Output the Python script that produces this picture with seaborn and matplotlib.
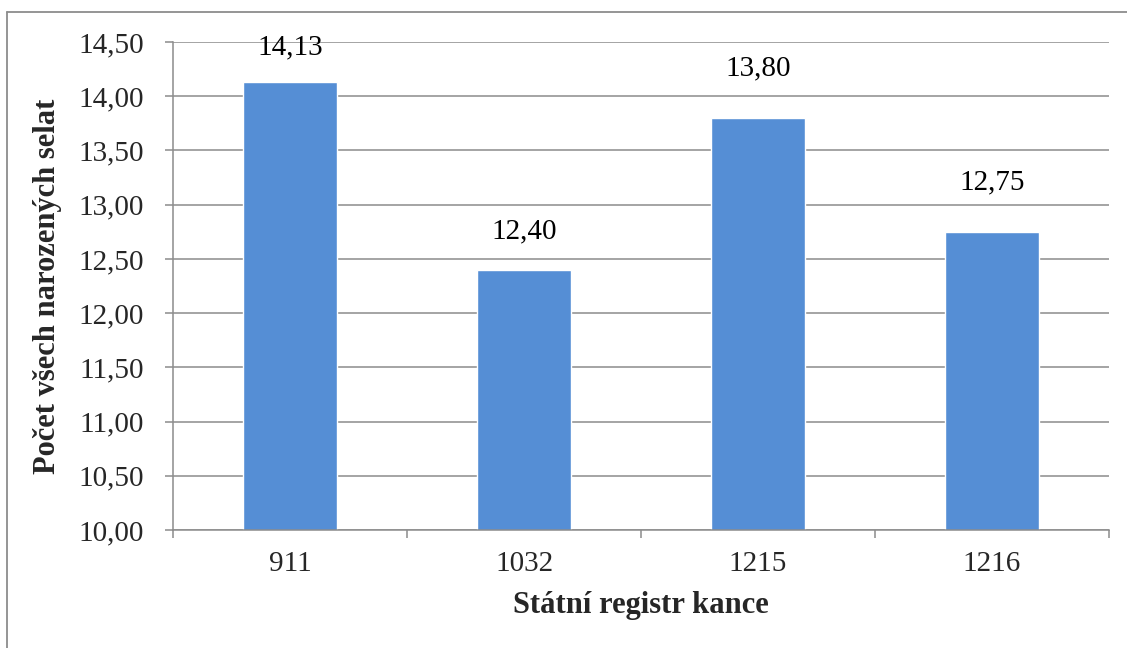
import matplotlib
matplotlib.use("Agg")
import matplotlib.pyplot as plt
import seaborn as sns
import pandas as pd
from matplotlib.lines import Line2D

# Data
boars = ["911", "1032", "1215", "1216"]
piglets = [14.13, 12.40, 13.80, 12.75]
y_ticks = [10.0, 10.5, 11.0, 11.5, 12.0, 12.5, 13.0, 13.5, 14.0, 14.5]

df = pd.DataFrame({"kanec": boars, "selata": piglets})

sns.set_theme(style="white")
plt.rcParams["font.family"] = ["Liberation Serif", "DejaVu Serif"]

W, H = 1127, 648
fig = plt.figure(figsize=(W / 100, H / 100), dpi=100)
ax = fig.add_axes([173 / W, 1 - 530 / H, (1109 - 173) / W, (530 - 42) / H])

grid_c = "#8c8c8c"
ax.set_axisbelow(True)
for v in y_ticks:
    ax.axhline(v, color=grid_c, lw=1.1, zorder=0)

sns.barplot(data=df, x="kanec", y="selata", order=boars, color="#558ed5",
            saturation=1, width=0.40, ax=ax, zorder=2)

ax.set_ylim(10.0, 14.5)
ax.set_xlim(-0.5, len(boars) - 0.5)
ax.set_yticks(y_ticks)
ax.set_yticklabels([f"{v:.2f}".replace(".", ",") for v in y_ticks], fontsize=21)

# category separators below the axis
ax.set_xticks([i + 0.5 for i in range(-1, len(boars))], minor=True)
ax.set_xticks(range(len(boars)))
ax.set_xticklabels(boars, fontsize=21)
ax.tick_params(axis="x", which="major", length=0, pad=15)
ax.tick_params(axis="x", which="minor", length=6, width=1.1, color=grid_c, bottom=True)
ax.tick_params(axis="y", length=6, width=1.1, color=grid_c, left=True, pad=15)

for side in ["top", "right"]:
    ax.spines[side].set_visible(False)
for side in ["left", "bottom"]:
    ax.spines[side].set_color(grid_c)
    ax.spines[side].set_linewidth(1.1)

ax.set_xlabel("Státní registr kance", fontsize=22, fontweight="bold", labelpad=10)
ax.set_ylabel("Počet všech narozených selat", fontsize=22, fontweight="bold", labelpad=12)

# value labels above bars
label_pad = [16, 18, 26, 26]
for i, v in enumerate(piglets):
    ax.annotate(f"{v:.2f}".replace(".", ","), (i, v), xytext=(0, label_pad[i]),
                textcoords="offset points", ha="center", va="bottom", fontsize=21,
                color="black", annotation_clip=False)

# chart frame
fig.add_artist(Line2D([7 / W, 7 / W], [0, 1 - 12 / H], transform=fig.transFigure,
                      color="#8c8c8c", lw=1.3))
fig.add_artist(Line2D([7 / W, 1], [1 - 12 / H, 1 - 12 / H], transform=fig.transFigure,
                      color="#8c8c8c", lw=1.3))

fig.savefig("out.png", dpi=100)
